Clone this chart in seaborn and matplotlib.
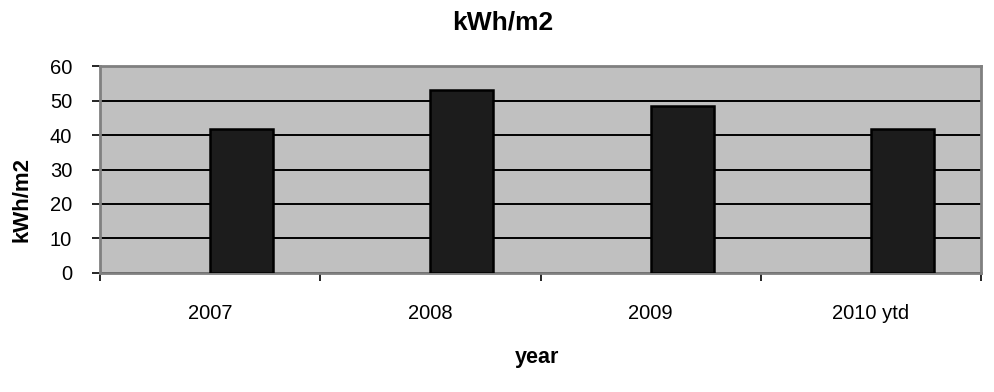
import matplotlib
matplotlib.use("Agg")
import matplotlib.pyplot as plt
import seaborn as sns
import pandas as pd
from matplotlib.ticker import FixedLocator

years = ["2007", "2008", "2009", "2010 ytd"]
kwh_per_m2 = [41.7, 53.0, 48.4, 41.6]
y_ticks = [0, 10, 20, 30, 40, 50, 60]

sns.set_theme(style="white")
plt.rcParams["font.family"] = ["Liberation Sans", "DejaVu Sans"]
plt.rcParams["text.color"] = "black"

df = pd.DataFrame({"year": years, "kWh/m2": kwh_per_m2})

fig = plt.figure(figsize=(9.95, 3.92), dpi=100)
ax = fig.add_axes([0.1005, 0.3036, 0.8855, 0.528])

bar_w = 0.286
sns.barplot(data=df, x="year", y="kWh/m2", color="#1c1c1c", width=bar_w,
            edgecolor="black", linewidth=1.8, saturation=1, ax=ax, zorder=3)
# bars sit to the right of each category centre
for p in ax.patches:
    p.set_x(p.get_x() + bar_w / 2)

ax.set_facecolor("#c0c0c0")
ax.set_xlim(-0.5, 3.5)
ax.set_ylim(0, 60)
ax.set_yticks(y_ticks)
ax.yaxis.grid(True, color="black", linewidth=1.4, zorder=1)
ax.set_axisbelow(True)
ax.xaxis.grid(False)

ax.xaxis.set_minor_locator(FixedLocator([-0.5, 0.5, 1.5, 2.5, 3.5]))
ax.tick_params(axis="x", which="major", length=0, pad=22, labelsize=14.5, labelcolor="black")
ax.tick_params(axis="x", which="minor", bottom=True, length=6, width=1.2, color="black")
ax.tick_params(axis="y", left=True, length=6, width=1.2, color="black", pad=14,
               labelsize=14.5, labelcolor="black")

for side in ["top", "right", "bottom", "left"]:
    ax.spines[side].set_color("#808080")
    ax.spines[side].set_linewidth(2)

ax.set_xlabel("")
ax.set_ylabel("")

fig.text(0.505, 0.942, "kWh/m2", ha="center", va="center", fontsize=19,
         fontweight="bold", color="black")
fig.text(0.54, 0.087, "year", ha="center", va="center", fontsize=15.5,
         fontweight="bold", color="black")
fig.text(0.022, 0.49, "kWh/m2", ha="center", va="center", rotation=90,
         fontsize=16, fontweight="bold", color="black")

fig.savefig("out.png", dpi=100)
